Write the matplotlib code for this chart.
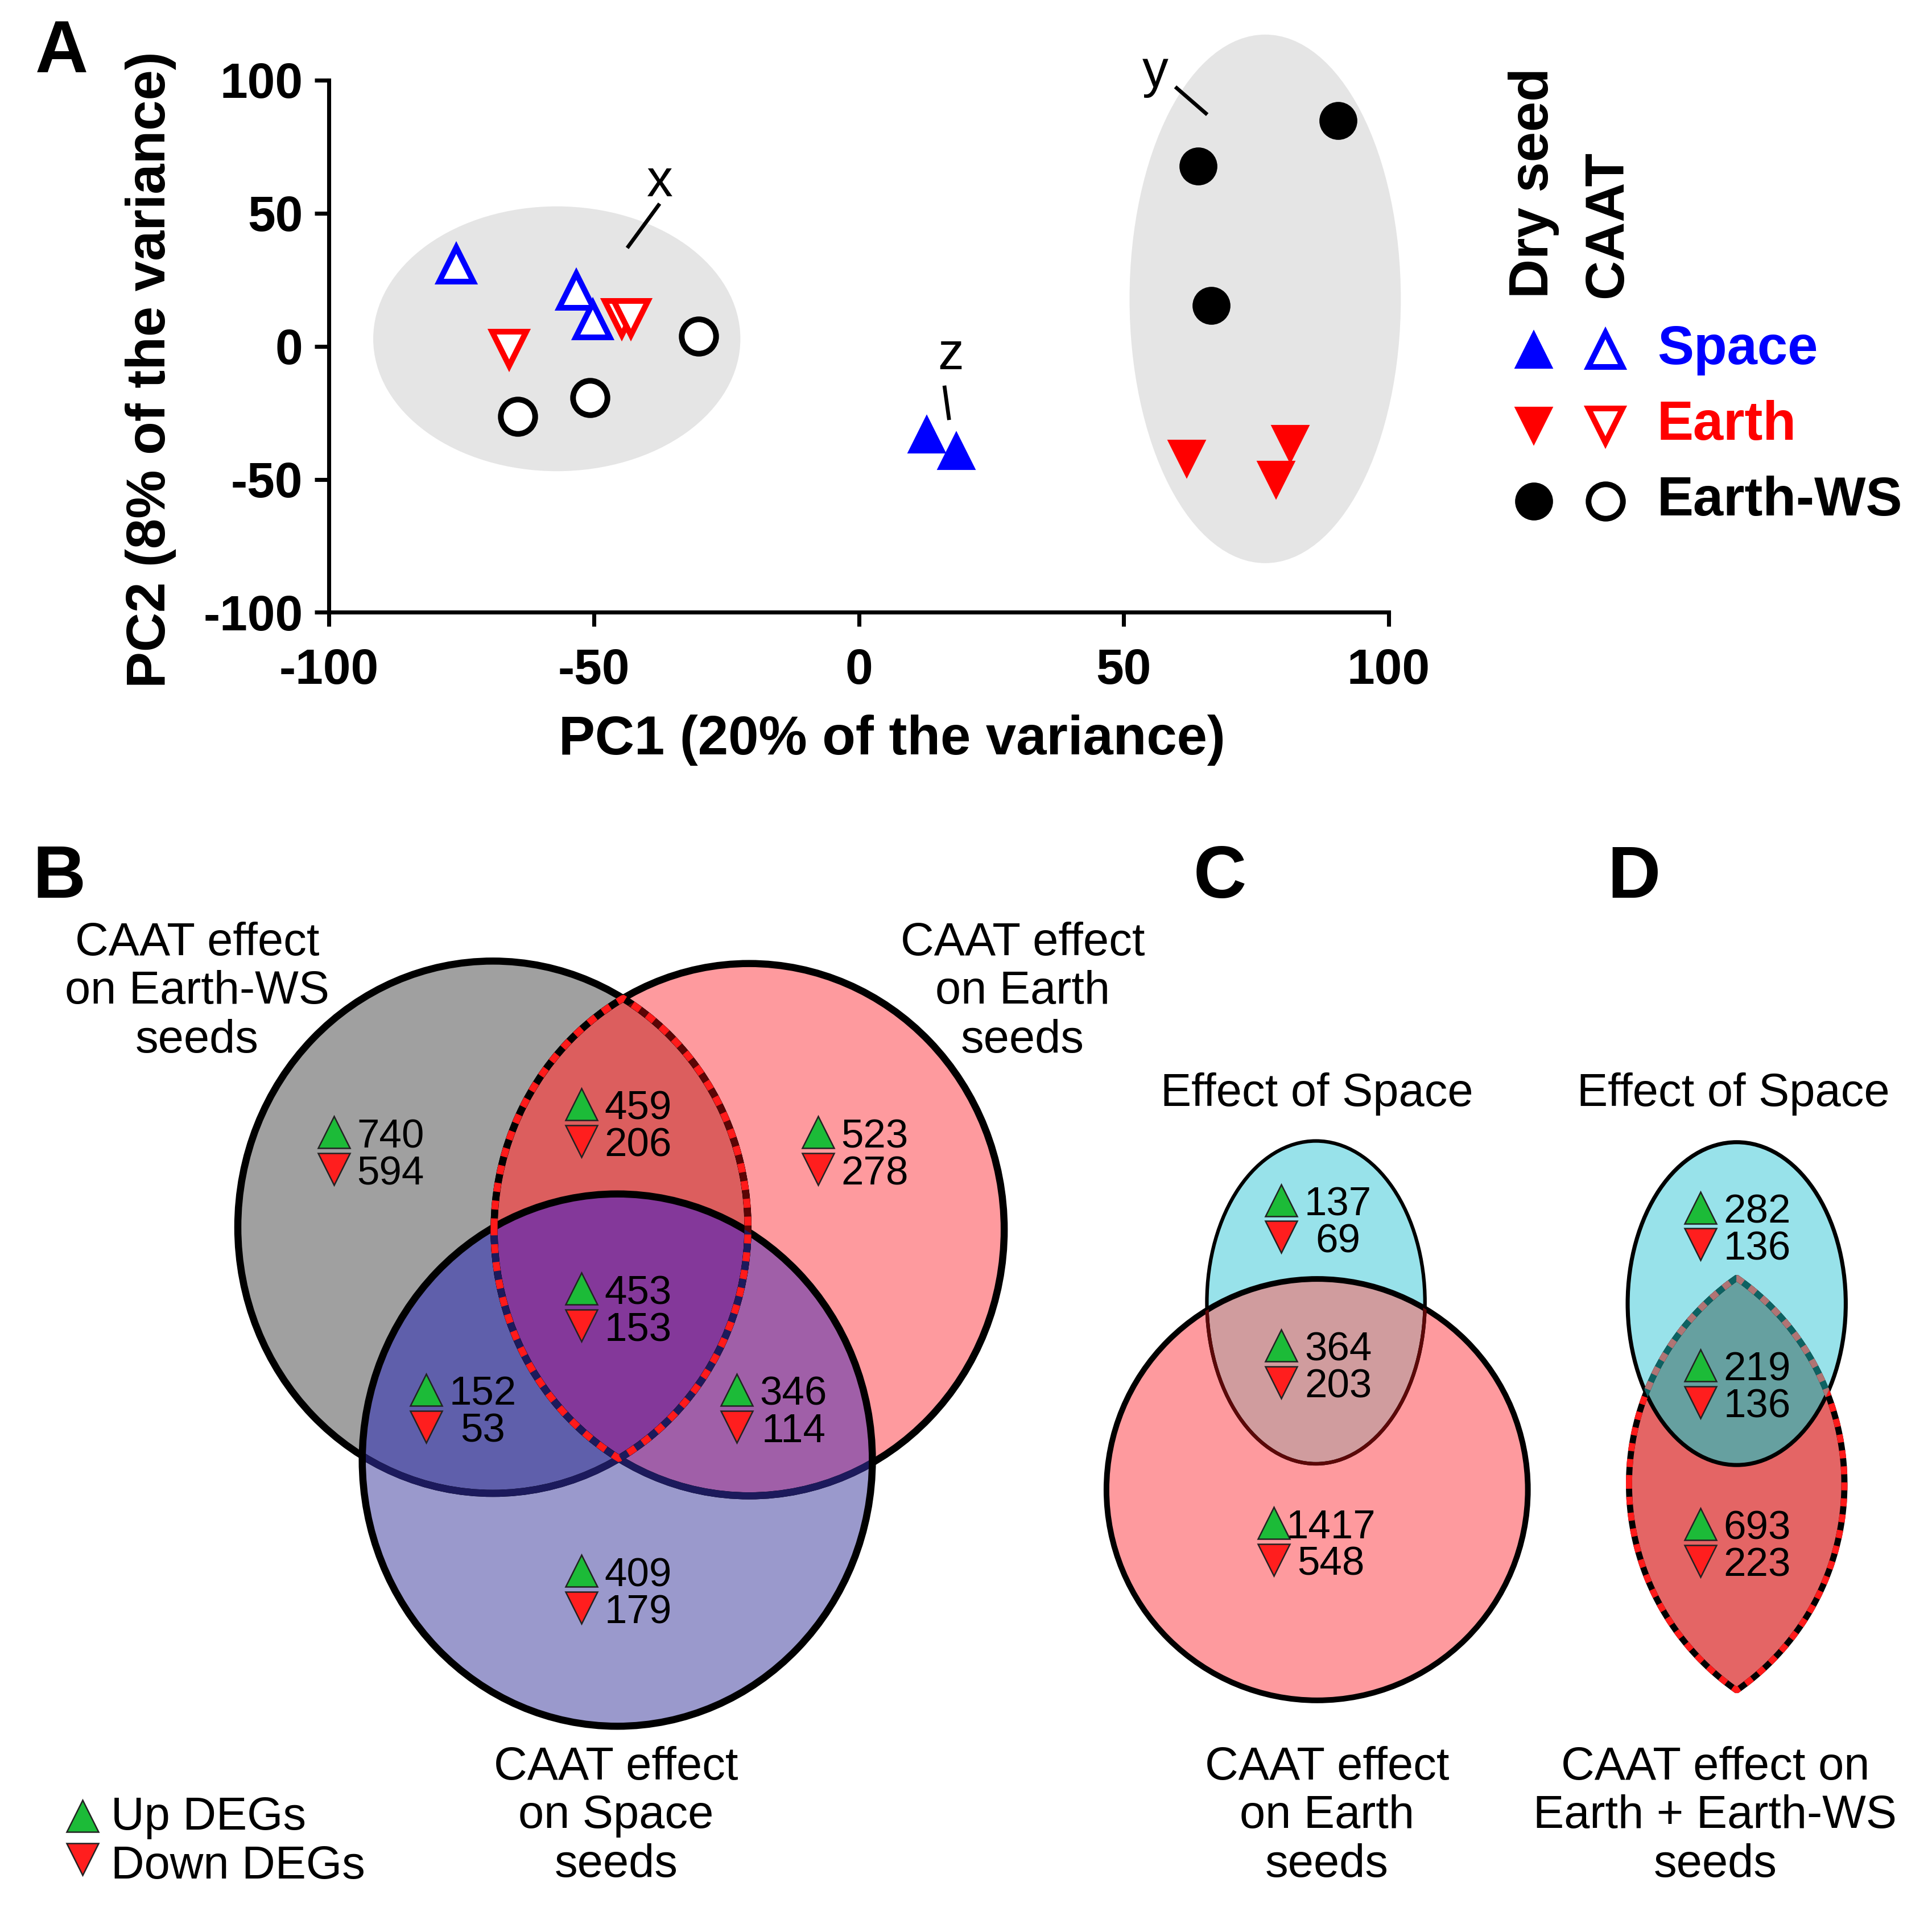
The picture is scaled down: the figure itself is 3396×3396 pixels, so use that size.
import numpy as np
import matplotlib
matplotlib.use('Agg')
import matplotlib.pyplot as plt
from matplotlib.patches import Ellipse, Polygon

plt.rcParams['font.family'] = ['Liberation Sans', 'DejaVu Sans']
plt.rcParams['axes.unicode_minus'] = False

# ---- panel A: PCA scores ----
space_caat_x = [-76.0, -53.3, -50.2]
space_caat_y = [30.6, 20.8, 9.7]
earth_caat_x = [-66.0, -44.7, -43.0]
earth_caat_y = [-0.9, 10.6, 10.6]
ws_caat_x = [-30.2, -64.4, -50.7]
ws_caat_y = [3.7, -26.4, -19.4]
space_dry_x = [12.8, 18.4]
space_dry_y = [-33.3, -39.4]
earth_dry_x = [61.9, 81.4, 78.8]
earth_dry_y = [-42.1, -36.6, -50.0]
ws_dry_x = [90.5, 64.0, 66.5]
ws_dry_y = [84.7, 67.6, 15.3]

groups = ['Space', 'Earth', 'Earth-WS']
group_colors = ['#0000ff', '#ff0000', '#000000']
group_markers = ['^', 'v', 'o']

# ---- panels B-D: DEG counts (up / down) ----
B_up = [740, 459, 523, 453, 152, 346, 409]
B_down = [594, 206, 278, 153, 53, 114, 179]
C_up = [137, 364, 1417]
C_down = [69, 203, 548]
D_up = [282, 219, 693]
D_down = [136, 136, 223]

fig = plt.figure(figsize=(11.32, 11.32), dpi=300)

# overlay axes in reference pixel units (1568 x 1568, y down)
ov = fig.add_axes([0, 0, 1, 1])
ov.set_xlim(0, 1568)
ov.set_ylim(1568, 0)
ov.axis('off')

# ---------------- Panel A ----------------
ax = fig.add_axes([267 / 1568, 1 - 497 / 1568, 860 / 1568, 432 / 1568])
ax.set_facecolor('none')
ax.add_patch(Ellipse((-57, 2.8), 69.3, 99.5, fc='#e5e5e5', ec='none', zorder=0))
ax.add_patch(Ellipse((76.7, 17.8), 51.2, 198.6, fc='#e5e5e5', ec='none', zorder=0, clip_on=False))

caat = [(space_caat_x, space_caat_y), (earth_caat_x, earth_caat_y), (ws_caat_x, ws_caat_y)]
dry = [(space_dry_x, space_dry_y), (earth_dry_x, earth_dry_y), (ws_dry_x, ws_dry_y)]
for (x, y), c, m in zip(caat, group_colors, group_markers):
    ax.plot(x, y, ls='none', marker=m, ms=14.5, mfc='white', mec=c, mew=2.4, clip_on=False, zorder=3)
for (x, y), c, m in zip(dry, group_colors, group_markers):
    ax.plot(x, y, ls='none', marker=m, ms=15, mfc=c, mec=c, mew=1, clip_on=False, zorder=3)

# cluster labels
ax.text(-37.5, 61.5, 'x', fontsize=22, ha='center', va='center')
ax.plot([-43.5, -37.8], [37.5, 53], color='k', lw=1.6)
ax.text(56, 102.5, 'y', fontsize=22, ha='center', va='center', clip_on=False)
ax.plot([60, 65.5], [97, 87.5], color='k', lw=1.6, clip_on=False)
ax.text(17.3, -3.5, 'z', fontsize=22, ha='center', va='center')
ax.plot([16.2, 17.0], [-15.5, -27], color='k', lw=1.6)

ax.set_xlim(-100, 100)
ax.set_ylim(-100, 100)
ax.set_xticks([-100, -50, 0, 50, 100])
ax.set_yticks([-100, -50, 0, 50, 100])
for s in ['top', 'right']:
    ax.spines[s].set_visible(False)
for s in ['left', 'bottom']:
    ax.spines[s].set_linewidth(1.7)
ax.tick_params(length=6, width=1.7, labelsize=21)
ax.tick_params(axis='x', pad=9)
ax.tick_params(axis='y', pad=5)
for lab in ax.get_xticklabels() + ax.get_yticklabels():
    lab.set_fontweight('bold')
ax.set_xlabel('PC1 (20% of the variance)', fontsize=23, fontweight='bold')
ax.set_ylabel('PC2 (8% of the variance)', fontsize=23, fontweight='bold')
ax.xaxis.set_label_coords((724 - 267) / 860, (497 - 580) / 432)
ax.yaxis.set_label_coords((143 - 267) / 860, (497 - 300) / 432)

# legend for A
ov.text(1245, 242, 'Dry seed', rotation=90, ha='center', va='bottom', fontsize=23, fontweight='bold')
ov.text(1305, 242, 'CAAT', rotation=90, ha='center', va='bottom', fontsize=23, fontweight='bold')
for i, (g, c, m) in enumerate(zip(groups, group_colors, group_markers)):
    yy = 284 + 61.5 * i
    ov.plot(1245, yy, marker=m, ms=15, mfc=c, mec=c, mew=1)
    ov.plot(1303, yy, marker=m, ms=14.5, mfc='white', mec=c, mew=2.4)
    ov.text(1345, yy, g, color=c, fontsize=23, fontweight='bold', ha='left', va='center')

# panel letters
for letter, (px, py) in zip('ABCD', [(50, 43), (48, 713), (990, 713), (1326, 713)]):
    ov.text(px, py, letter, fontsize=31, fontweight='bold', ha='center', va='center')


# ---------------- Venn helpers ----------------
def ell(cx, cy, w, h, **kw):
    return Ellipse((cx, cy), w, h, transform=ov.transData, **kw)


def lens_pts(e1, e2, n=1440):
    t = np.linspace(0, 2 * np.pi, n, endpoint=False)
    pts = []
    for a, b in [(e1, e2), (e2, e1)]:
        x = a[0] + a[2] / 2 * np.cos(t)
        y = a[1] + a[3] / 2 * np.sin(t)
        inside = ((x - b[0]) / (b[2] / 2)) ** 2 + ((y - b[1]) / (b[3] / 2)) ** 2 <= 1
        pts.append(np.c_[x[inside], y[inside]])
    P = np.vstack(pts)
    c = P.mean(0)
    return P[np.argsort(np.arctan2(P[:, 1] - c[1], P[:, 0] - c[0]))]


def add_clipped(patch, clip):
    ov.add_patch(patch)
    patch.set_clip_path(clip)


def deg_label(x, y, up, down, dx=46):
    ov.plot(x, y - 15, marker='^', ms=13.5, mfc='#1cbb38', mec='#222222', mew=0.6, zorder=20)
    ov.plot(x, y + 15, marker='v', ms=13.5, mfc='#ff1e1e', mec='#222222', mew=0.6, zorder=20)
    ov.text(x + dx, y - 11, str(up), fontsize=17, ha='center', va='center', zorder=21)
    ov.text(x + dx, y + 19, str(down), fontsize=17, ha='center', va='center', zorder=21)


dash = (0, (1.3, 1.3))

# ---------------- Panel B ----------------
g_e = (400, 996, 414, 432)
p_e = (608, 998, 414, 432)
b_e = (501, 1185, 414, 432)
ov.add_patch(ell(*g_e, fc='#a0a0a0', ec='none', zorder=1))
ov.add_patch(ell(*p_e, fc='#fe9a9e', ec='none', zorder=1))
ov.add_patch(ell(*b_e, fc='#9a99cc', ec='none', zorder=1))
lensB = lens_pts(g_e, p_e)
ov.add_patch(Polygon(lensB, closed=True, fc='#dc5e5e', ec='none', zorder=2))
add_clipped(ell(*g_e, fc='#5f5fab', ec='none', zorder=2), ell(*b_e))
add_clipped(ell(*p_e, fc='#a05fa8', ec='none', zorder=2), ell(*b_e))
add_clipped(Polygon(lensB, closed=True, fc='#84389a', ec='none', zorder=3), ell(*b_e))
for e in (g_e, p_e):
    ov.add_patch(ell(*e, fill=False, ec='black', lw=3, zorder=4))
    add_clipped(ell(*e, fill=False, ec='#1c1a5c', lw=3, zorder=5), ell(*b_e))
ov.add_patch(ell(*b_e, fill=False, ec='black', lw=3, zorder=6))
ov.add_patch(Polygon(lensB, closed=True, fill=False, ec='black', lw=2.9, zorder=7))
pink_inner = (p_e[0], p_e[1], p_e[2] - 14, p_e[3] - 14)
add_clipped(Polygon(lensB, closed=True, fill=False, ec='#5a0505', lw=2.9, zorder=7.2), ell(*pink_inner))
add_clipped(Polygon(lensB, closed=True, fill=False, ec='#1c1a5c', lw=2.9, zorder=7.5), ell(*b_e))
ov.add_patch(Polygon(lensB, closed=True, fill=False, ec='#ff1a1a', lw=2.9, ls=dash, zorder=8))

B_pos = [(271, 934), (472, 911), (664, 934), (472, 1061), (346, 1143), (598, 1143), (472, 1290)]
for (x, y), u, d in zip(B_pos, B_up, B_down):
    deg_label(x, y, u, d)

lab_kw = dict(fontsize=19.5, ha='center', va='center', linespacing=1.16)
ov.text(160, 805, 'CAAT effect\non Earth-WS\nseeds', **lab_kw)
ov.text(830, 805, 'CAAT effect\non Earth\nseeds', **lab_kw)
ov.text(500, 1474, 'CAAT effect\non Space\nseeds', **lab_kw)

# DEG legend
ov.plot(67, 1474, marker='^', ms=13.5, mfc='#1cbb38', mec='#222222', mew=0.6)
ov.plot(67, 1509, marker='v', ms=13.5, mfc='#ff1e1e', mec='#222222', mew=0.6)
ov.text(90, 1475, 'Up DEGs', fontsize=19.5, ha='left', va='center')
ov.text(90, 1515, 'Down DEGs', fontsize=19.5, ha='left', va='center')

# ---------------- Panel C ----------------
cc_e = (1068, 1057, 177, 262)
cp_e = (1069, 1209, 342, 342)
ov.add_patch(ell(*cp_e, fc='#fe9a9e', ec='none', zorder=1))
ov.add_patch(ell(*cc_e, fc='#98e2ea', ec='none', zorder=1))
add_clipped(ell(*cc_e, fc='#d09c9e', ec='none', zorder=2), ell(*cp_e))
ov.add_patch(ell(*cp_e, fill=False, ec='black', lw=2.4, zorder=4))
ov.add_patch(ell(*cc_e, fill=False, ec='black', lw=1.5, zorder=5))
add_clipped(ell(*cc_e, fill=False, ec='#5c0808', lw=1.5, zorder=6), ell(*cp_e))
C_pos = [(1040, 989), (1040, 1107), (1034, 1251)]
for (x, y), u, d in zip(C_pos, C_up, C_down):
    deg_label(x, y, u, d)
ov.text(1069, 888, 'Effect of Space', fontsize=19.5, ha='center', va='center')
ov.text(1077, 1474, 'CAAT effect\non Earth\nseeds', **lab_kw)

# ---------------- Panel D ----------------
dc_e = (1409.5, 1058, 177, 262)
dl1 = (1409.5 - 116.6, 1204.5, 408, 408)
dl2 = (1409.5 + 116.6, 1204.5, 408, 408)
lensD = lens_pts(dl1, dl2)
ov.add_patch(ell(*dc_e, fc='#98e2ea', ec='none', zorder=1))
ov.add_patch(Polygon(lensD, closed=True, fc='#e46565', ec='none', zorder=1))
add_clipped(Polygon(lensD, closed=True, fc='#66a0a0', ec='none', zorder=2), ell(*dc_e))
ov.add_patch(ell(*dc_e, fill=False, ec='black', lw=1.7, zorder=4))
ov.add_patch(Polygon(lensD, closed=True, fill=False, ec='black', lw=2.6, zorder=5))
ov.add_patch(Polygon(lensD, closed=True, fill=False, ec='#ff1a1a', lw=2.6, ls=dash, zorder=6))
add_clipped(Polygon(lensD, closed=True, fill=False, ec='#0d6262', lw=2.6, zorder=7), ell(*dc_e))
add_clipped(Polygon(lensD, closed=True, fill=False, ec='#b07474', lw=2.6, ls=dash, zorder=8), ell(*dc_e))
D_pos = [(1380, 995), (1380, 1123), (1380, 1252)]
for (x, y), u, d in zip(D_pos, D_up, D_down):
    deg_label(x, y, u, d)
ov.text(1407, 888, 'Effect of Space', fontsize=19.5, ha='center', va='center')
ov.text(1392, 1474, 'CAAT effect on\nEarth + Earth-WS\nseeds', **lab_kw)

fig.savefig('out.png', dpi=300)
